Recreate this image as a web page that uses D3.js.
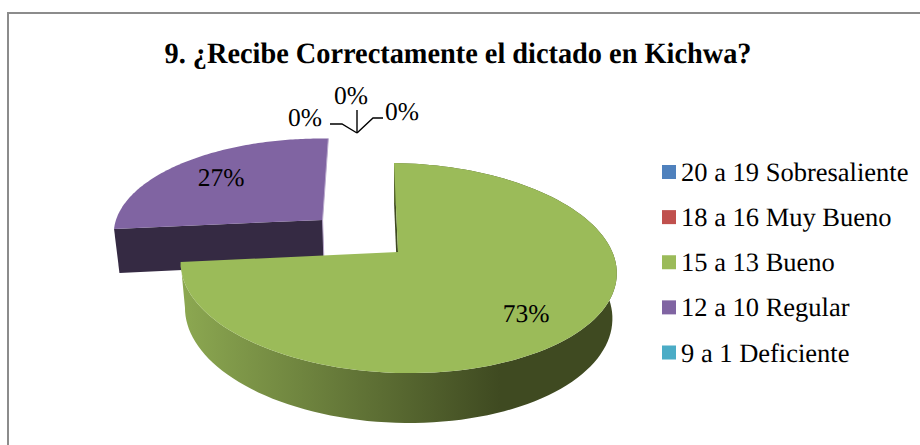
<!DOCTYPE html>
<html>
<head>
<meta charset="utf-8">
<script src="https://cdn.jsdelivr.net/npm/d3@7"></script>
<style>
  html, body { margin: 0; padding: 0; background: #fff; overflow: hidden; }
  svg { display: block; }
  text { font-family: "Liberation Serif", serif; fill: #000; text-rendering: geometricPrecision; }
</style>
</head>
<body>
<div id="chart"></div>
<script>
const categories = ["20 a 19 Sobresaliente", "18 a 16 Muy Bueno", "15 a 13 Bueno", "12 a 10 Regular", "9 a 1 Deficiente"];
const values = [0, 0, 73, 27, 0];
const colors = ["#4f81bd", "#c0504d", "#9bbb59", "#8064a2", "#4bacc6"];
const title = "9. ¿Recibe Correctamente el dictado en Kichwa?";

const w = 920, h = 445;

const svg = d3.select("#chart").append("svg")
    .attr("width", w)
    .attr("height", h);

// chart frame, right and bottom edges run off the picture
svg.append("rect")
    .attr("x", 8).attr("y", 13)
    .attr("width", 930).attr("height", 450)
    .attr("fill", "#fff")
    .attr("stroke", "#8c8c8c")
    .attr("stroke-width", 2);

// the title is a bit narrower than its height in the picture
svg.append("text")
    .attr("transform", "translate(458,62.5) scale(0.96,1)")
    .attr("text-anchor", "middle")
    .attr("font-weight", "bold")
    .attr("font-size", 29.5)
    .text(title);

// perspective projection of the pie disc
const cx = 398, cy = 252, R = 215.5, H = 102.6, p = 0.1525, q = 0.02, D = 45.7, skew = 4.6, tilt = 3;
function project(u, v, z) {
    const s = 1 / (1 - p * v + q * z);
    return [cx + (R * u + skew * v) * s, cy + (H * v + D * z + tilt * u) * s];
}

const slices = d3.pie().sort(null).startAngle(0).endAngle(2 * Math.PI).value(d => d)(values);
const line = d3.line();

function rim(slice, off, z) {
    const n = 120;
    return d3.range(n + 1).map(i => {
        const a = slice.startAngle + (slice.endAngle - slice.startAngle) * i / n;
        return project(off[0] + Math.sin(a), off[1] - Math.cos(a), z);
    });
}

function offset(slice, e) {
    const a = (slice.startAngle + slice.endAngle) / 2;
    return [e * Math.sin(a), -e * Math.cos(a)];
}

const defs = svg.append("defs");
const grad = defs.append("linearGradient")
    .attr("id", "greenSide")
    .attr("gradientUnits", "userSpaceOnUse")
    .attr("x1", 182).attr("x2", 500).attr("y1", 0).attr("y2", 0);
grad.append("stop").attr("offset", 0).attr("stop-color", "#8ca851");
grad.append("stop").attr("offset", 1).attr("stop-color", "#3f4a21");

function drawSlice(slice, e, sideFill, wallFill, fringe) {
    const off = offset(slice, e);
    const top = rim(slice, off, 0);
    const low = rim(slice, off, 1);
    const apexTop = project(off[0], off[1], 0);
    const apexLow = project(off[0], off[1], 1);
    const g = svg.append("g");
    const face = pts => g.append("path").attr("d", line(pts) + "Z");

    // wall along the start cut edge
    face([apexTop, top[0], low[0], apexLow]).attr("fill", wallFill);
    // outer wall, only up to the point where the rim turns away from view
    const last = e > 0 ? d3.minIndex(top, d => d[0]) : top.length - 1;
    face(top.slice(0, last + 1).concat(low.slice(0, last + 1).reverse())).attr("fill", sideFill);
    // top surface
    face([apexTop].concat(top)).attr("fill", colors[slice.index]);
    // pale fringe on the end cut edge
    if (fringe) {
        g.append("path")
            .attr("d", line([top[top.length - 1], apexTop, apexLow]))
            .attr("fill", "none")
            .attr("stroke", fringe)
            .attr("stroke-width", 1);
    }
}

drawSlice(slices[3], 0.48, "#352a43", "#352a43", "#b9a9cc");
drawSlice(slices[2], 0, "url(#greenSide)", "#3f4a21");

// data labels
const pct = d => d + "%";
const labelSize = 25.5;
svg.append("text").attr("x", 221).attr("y", 186).attr("text-anchor", "middle").attr("font-size", labelSize).text(pct(values[3]));
svg.append("text").attr("x", 526).attr("y", 322).attr("text-anchor", "middle").attr("font-size", labelSize).text(pct(values[2]));
svg.append("text").attr("x", 305).attr("y", 126).attr("text-anchor", "middle").attr("font-size", labelSize).text(pct(values[1]));
svg.append("text").attr("x", 351).attr("y", 104).attr("text-anchor", "middle").attr("font-size", labelSize).text(pct(values[0]));
svg.append("text").attr("x", 402).attr("y", 120).attr("text-anchor", "middle").attr("font-size", labelSize).text(pct(values[4]));

// leader lines of the zero slices
[
    [[357, 133], [342, 124], [330, 124]],
    [[357, 133], [357, 110]],
    [[357, 133], [373, 118], [383, 118]]
].forEach(pts => {
    svg.append("path")
        .attr("d", line(pts))
        .attr("fill", "none")
        .attr("stroke", "#000")
        .attr("stroke-width", 1.4);
});

// legend
const legendY = d3.scalePoint().domain(categories).range([172, 352.5]);
const legend = svg.append("g").selectAll("g").data(categories).enter().append("g")
    .attr("transform", d => "translate(662," + legendY(d) + ")");
legend.append("rect")
    .attr("x", 0).attr("y", -7)
    .attr("width", 14).attr("height", 14)
    .attr("fill", (d, i) => colors[i]);
legend.append("text")
    .attr("x", 19).attr("y", 9)
    .attr("font-size", 26.5)
    .text(d => d);
</script>
</body>
</html>
